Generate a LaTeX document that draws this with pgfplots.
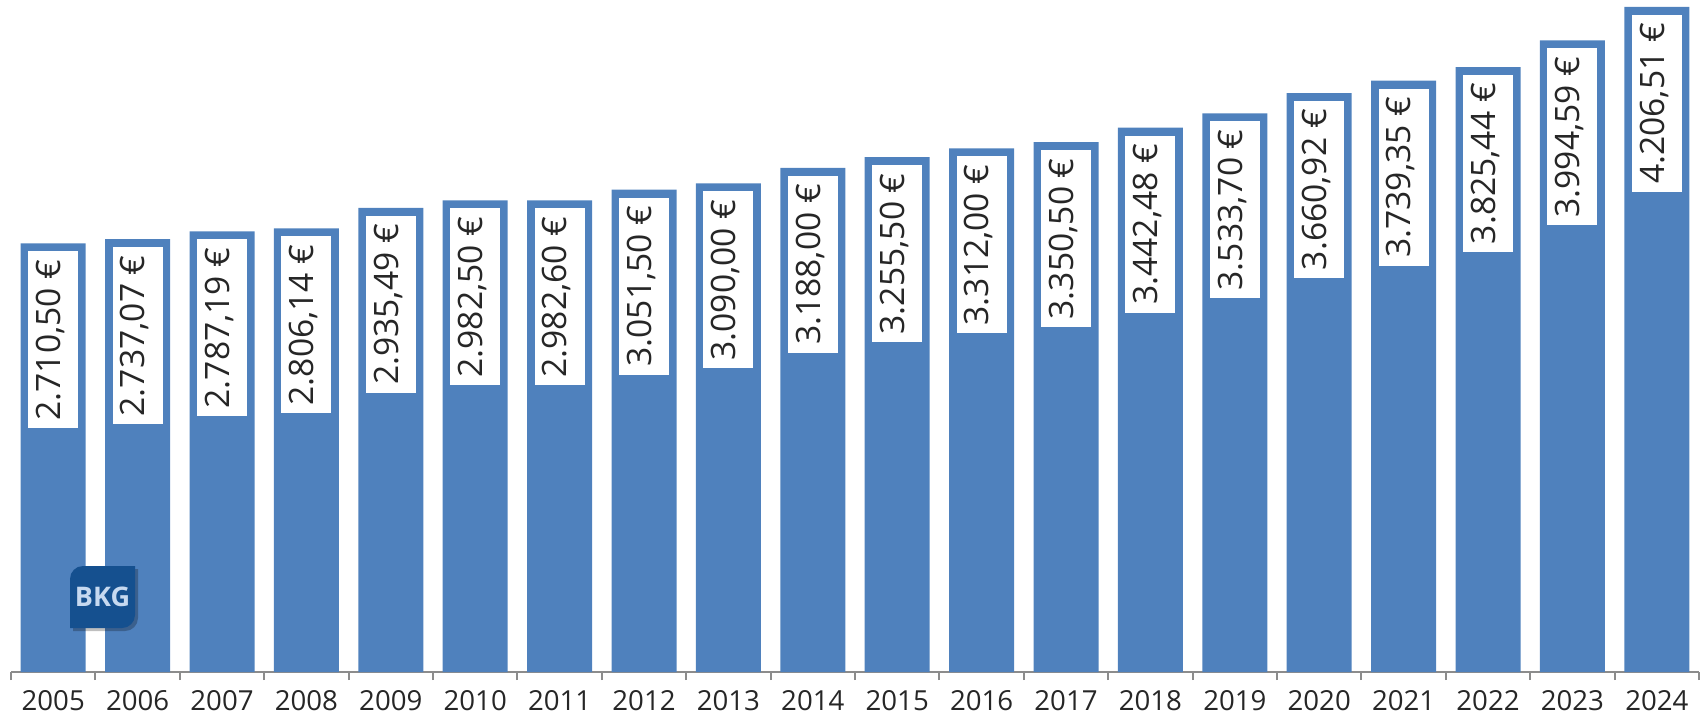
\documentclass[border=0pt]{standalone}
\usepackage{fontspec}
\setmainfont{Open Sans}
\usepackage{pgfplots}
\pgfplotsset{compat=1.18}
\definecolor{barblue}{HTML}{4F81BD}
\definecolor{logoblue}{HTML}{15508F}
\definecolor{logotext}{HTML}{C6D9F0}
\definecolor{axisgray}{HTML}{8C8C8C}
\definecolor{labeltext}{HTML}{262626}
\begin{document}
\begin{tikzpicture}
\begin{axis}[
  scale only axis, width=844pt, height=336pt,
  xmin=-0.5, xmax=19.5, ymin=0, ymax=4250,
  clip=false,
  axis x line*=bottom, axis y line=none,
  ybar, bar width=32.5pt,
  xtick={0,...,19},
  xticklabels={2005,2006,2007,2008,2009,2010,2011,2012,2013,2014,2015,2016,2017,2018,2019,2020,2021,2022,2023,2024},
  major x tick style={draw=none},
  minor xtick={-0.5,0.5,...,19.5},
  minor tick length=4pt,
  tick align=outside,
  minor x tick style={axisgray, line width=1pt},
  x axis line style={axisgray, line width=1pt},
  xticklabel style={font=\fontsize{13.8}{15}\selectfont, text=labeltext, yshift=-1.5pt},
  nodes near coords={\pgfmathprintnumber[fixed, fixed zerofill, precision=2, use comma, 1000 sep={.}, assume math mode=true]{\pgfplotspointmeta}~€},
  nodes near coords style={rotate=90, anchor=east, fill=white, outer xsep=4pt, inner xsep=4pt, inner ysep=0pt, minimum height=25pt, text height=0.72em, text depth=0pt, font=\fontsize{16.8}{19}\selectfont, text=labeltext},
]
\addplot[fill=barblue, draw=none] coordinates {
(0,2710.50) (1,2737.07) (2,2787.19) (3,2806.14) (4,2935.49)
(5,2982.50) (6,2982.60) (7,3051.50) (8,3090.00) (9,3188.00)
(10,3255.50) (11,3312.00) (12,3350.50) (13,3442.48) (14,3533.70)
(15,3660.92) (16,3739.35) (17,3825.44) (18,3994.59) (19,4206.51)
};
\end{axis}
% BKG logo
\fill[black, opacity=0.25] (31pt,20.5pt) -- (31pt,45pt) arc[start angle=180,end angle=90,radius=6.5pt] -- (63.5pt,51.5pt) -- (63.5pt,27pt) arc[start angle=0,end angle=-90,radius=6.5pt] -- cycle;
\fill[logoblue] (29.5pt,22pt) -- (29.5pt,46.5pt) arc[start angle=180,end angle=90,radius=6.5pt] -- (62pt,53pt) -- (62pt,28.5pt) arc[start angle=0,end angle=-90,radius=6.5pt] -- cycle;
\node[text=logotext, font=\bfseries\fontsize{13.5}{14}\selectfont, inner sep=0pt] at (45.75pt,37.5pt) {BKG};
\pgfresetboundingbox
\path (-5.5pt,-23.5pt) rectangle (847.5pt,336pt);
\end{tikzpicture}
\end{document}
